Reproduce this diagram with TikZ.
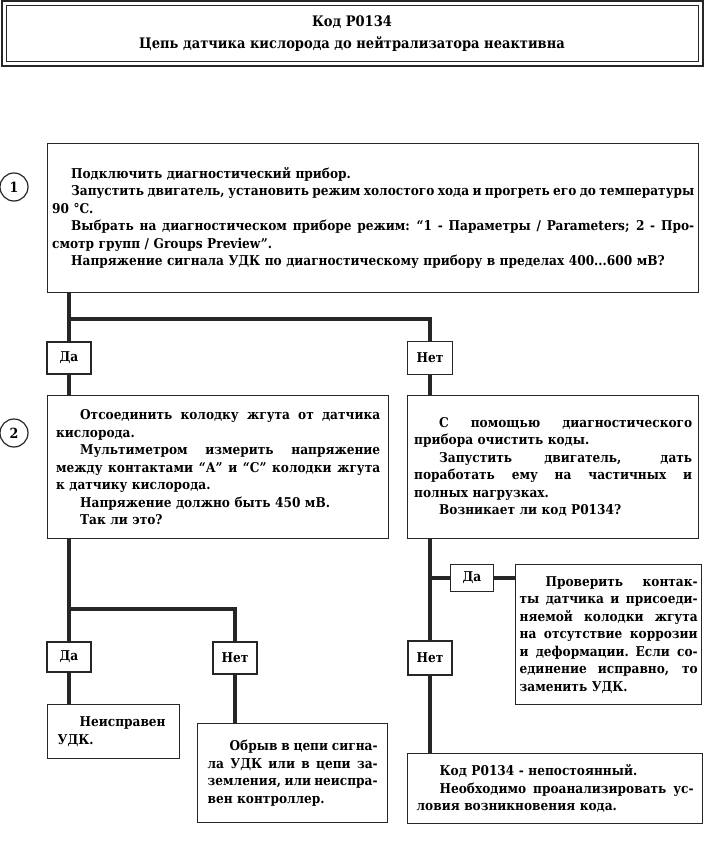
\documentclass[tikz,border=0pt]{standalone}
\usepackage{fontspec}
\setmainfont{DejaVu Serif}[FakeStretch=0.9]
\usetikzlibrary{calc}
\newcommand\J[2][0]{\makebox[\hsize][s]{\spaceskip=0.32em plus 1fil minus 0.15em\relax\hspace*{#1pt}#2}}
\newcommand\I[1][0]{\hspace*{#1pt}}
\tikzset{
  box/.style={draw=black!85, line width=1.3pt, anchor=north west, align=left, inner ysep=0pt,
    font=\bfseries\fontsize{13.5}{17.5}\selectfont},
  lbl/.style={draw=black!85, line width=1.3pt, fill=white, inner sep=0pt,
    font=\bfseries\fontsize{13.5}{15}\selectfont},
  conn/.style={line width=4pt, draw=black!85},
  num/.style={circle, draw=black!85, line width=1.2pt, minimum size=28pt, inner sep=0pt,
    font=\bfseries\fontsize{14}{15}\selectfont},
  ttl/.style={draw=black!85, line width=1pt, minimum width=692pt, minimum height=56pt, align=center,
    font=\bfseries\fontsize{14.5}{22}\selectfont}
}
\begin{document}
\begin{tikzpicture}[x=1pt,y=-1pt]
\useasboundingbox (0,0) rectangle (704,850);
% title
\node[ttl] (t) at (352,34) {Код P0134\\Цепь датчика кислорода до нейтрализатора неактивна};
\draw[line width=2pt, draw=black!85] ($(t.north west)+(-4,-4)$) rectangle ($(t.south east)+(4,4)$);
% circles
\node[num] (c1) at (14,187) {1};
\node[num] (c2) at (14,433) {2};
% boxes
\node[box, minimum width=651pt, minimum height=149pt, text width=642pt, inner xsep=4.5pt] (b1) at (47,143)
{\I[19]Подключить диагностический прибор.\\
\J[19]{Запустить двигатель, установить режим холостого хода и прогреть его до температуры}\\
90~°C.\\
\J[19]{Выбрать на диагностическом приборе режим: “1 - Параметры / Parameters; 2 - Про-}\\
смотр групп / Groups Preview”.\\
\I[19]Напряжение сигнала УДК по диагностическому прибору в пределах 400...600 мВ?};
\node[box, minimum width=341pt, minimum height=143pt, text width=324pt, inner xsep=8.5pt] (b2l) at (47,395)
{\J[24]{Отсоединить колодку жгута от датчика}\\
кислорода.\\
\J[24]{Мультиметром измерить напряжение}\\
\J{между контактами “А” и “С” колодки жгута}\\
к датчику кислорода.\\
\I[24]Напряжение должно быть 450 мВ.\\
\I[24]Так ли это?};
\node[box, minimum width=291pt, minimum height=143pt, text width=278pt, inner xsep=6.5pt] (b2r) at (407,395)
{\J[25]{С помощью диагностического}\\
прибора очистить коды.\\
\J[25]{Запустить двигатель, дать}\\
\J{поработать ему на частичных и}\\
полных нагрузках.\\
\I[25]Возникает ли код P0134?};
\node[box, minimum width=132pt, minimum height=54pt, text width=112pt, inner xsep=10pt] (b3) at (47,704)
{\J[22]{Неисправен}\\
УДК.};
\node[box, minimum width=190pt, minimum height=99pt, text width=170pt, inner xsep=10pt] (b4) at (197,723)
{\J[22]{Обрыв в цепи сигна-}\\
\J{ла УДК или в цепи за-}\\
\J{земления, или неиспра-}\\
вен контроллер.};
\node[box, minimum width=186pt, minimum height=140pt, text width=178pt, inner xsep=4pt] (b5) at (515,564)
{\J[26]{Проверить контак-}\\
\J{ты датчика и присоеди-}\\
\J{няемой колодки жгута}\\
\J{на отсутствие коррозии}\\
\J{и деформации. Если со-}\\
\J{единение исправно, то}\\
заменить УДК.};
\node[box, minimum width=295pt, minimum height=70pt, text width=277pt, inner xsep=9pt] (b6) at (407,753)
{\I[23]Код P0134 - непостоянный.\\
\J[23]{Необходимо проанализировать ус-}\\
ловия возникновения кода.};
% labels
\node[lbl, minimum width=44pt, minimum height=32pt] (da1) at (69,358) {Да};
\node[lbl, minimum width=45pt, minimum height=33pt] (net1) at (430,358) {Нет};
\node[lbl, minimum width=44pt, minimum height=30pt] (da2) at (69,657) {Да};
\node[lbl, minimum width=44pt, minimum height=32pt] (net2) at (235,658) {Нет};
\node[lbl, minimum width=43pt, minimum height=27pt] (da3) at (472,578) {Да};
\node[lbl, minimum width=44pt, minimum height=34pt] (net3) at (430,658) {Нет};
% connectors
\coordinate (j1) at (69,319);
\coordinate (j2) at (69,609);
\coordinate (j3) at (430,578);
\draw[conn] (b1.south -| da1.north) -- (da1.north);
\draw[conn] (j1) -| (net1.north);
\draw[conn] (da1.south) -- (da1.south |- b2l.north);
\draw[conn] (net1.south) -- (net1.south |- b2r.north);
\draw[conn] (b2l.south -| da2.north) -- (da2.north);
\draw[conn] (j2) -| (net2.north);
\draw[conn] (da2.south) -- (da2.south |- b3.north);
\draw[conn] (net2.south) -- (net2.south |- b4.north);
\draw[conn] (b2r.south -| net3.north) -- (net3.north);
\draw[conn] (j3) -- (da3.west);
\draw[conn] (da3.east) -- (b5.west |- da3.east);
\draw[conn] (net3.south) -- (net3.south |- b6.north);
\end{tikzpicture}
\end{document}
